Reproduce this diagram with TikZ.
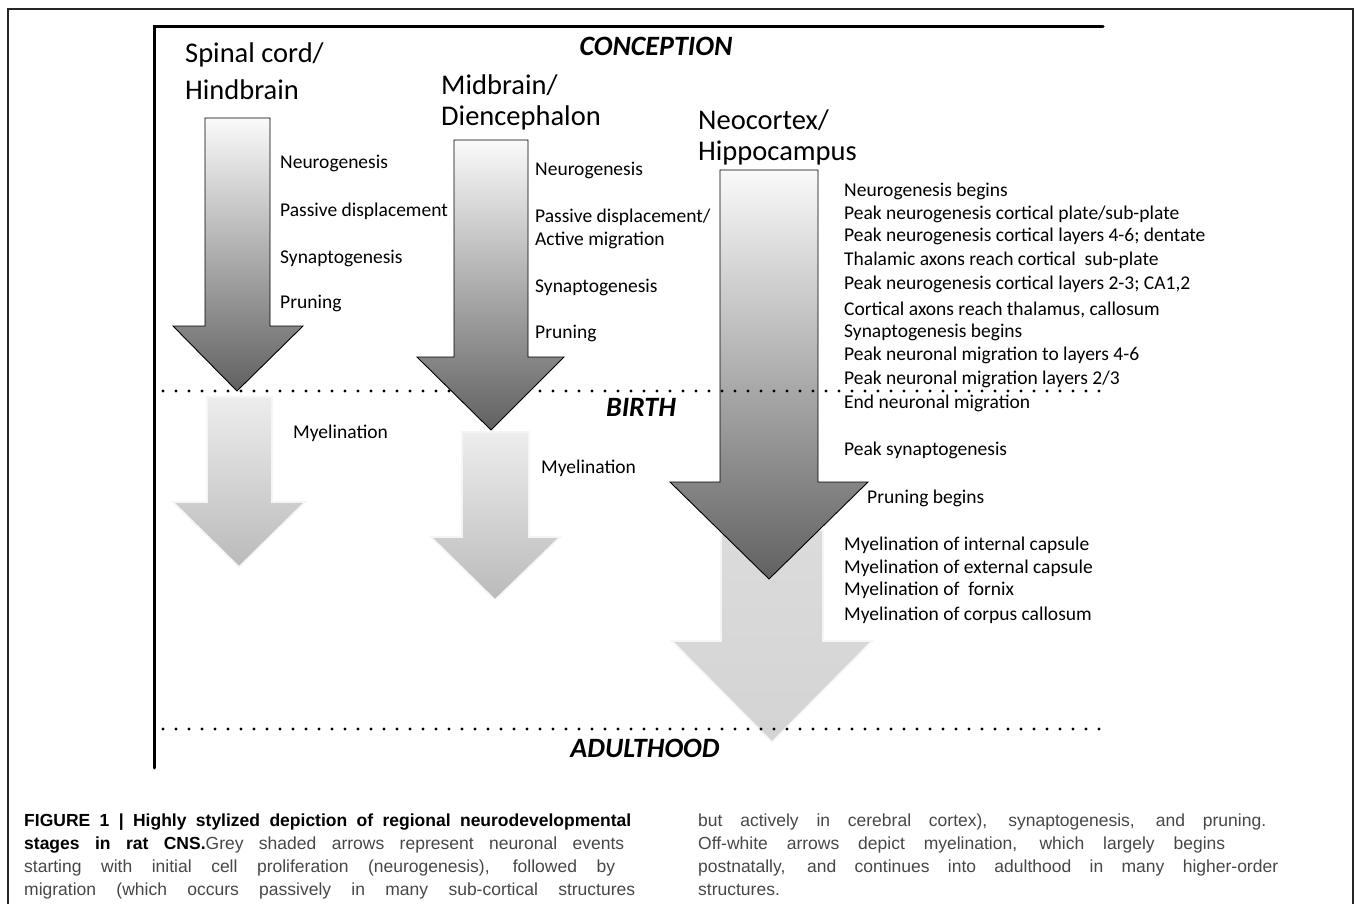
\documentclass[tikz,border=0pt]{standalone}
\usepackage{fontspec}
\setmainfont{Carlito}
\newfontfamily\capfont{Liberation Sans}
\begin{document}
\begin{tikzpicture}[x=1pt,y=-1pt,
 title/.style={anchor=west,font=\fontsize{28.5}{30}\selectfont,inner sep=0pt},
 lbl/.style={anchor=west,font=\fontsize{19.5}{21}\selectfont,inner sep=0pt},
 stage/.style={font=\fontsize{28}{30}\selectfont\bfseries\itshape,inner sep=0pt},
 darkarrow/.style={draw=black,line width=0.9pt,top color=black!2,bottom color=black!62,line join=miter},
 lightarrow/.style={draw=black!4,line width=1.6pt,top color=black!7,bottom color=black!27},
 flatarrow/.style={draw=black!4,line width=1.6pt,top color=black!14,bottom color=black!17},
 dots/.style={line width=3.2pt,line cap=round,dash pattern=on 0pt off 13pt},
 captxt/.style={anchor=base west,inner sep=0pt,font=\capfont\fontsize{17.5}{20}\selectfont,text=black!72},
]
\newcommand\bigarrow[9]{\path[#1] (#2,#4) -- (#3,#4) -- (#3,#7) -- (#6,#7) -- (#8,#9) -- (#5,#7) -- (#2,#7) -- cycle;}
\useasboundingbox (0,0) rectangle (1355,904);
% outer frame
\draw[line width=2pt,black!85] (8,910) -- (8,9) -- (1353,9) -- (1353,910);
% axes
\coordinate (axtop) at (154,27);
\coordinate (axright) at (1103,27);
\coordinate (axbot) at (154,768);
\draw[line width=3pt,line cap=round] (axright) -- (axtop) -- (axbot);
% neocortex arrows (behind dotted lines)
\bigarrow{flatarrow}{721}{823}{530}{672}{872}{641}{772}{742}
\bigarrow{darkarrow}{720}{818}{170}{670}{868}{482}{769}{579}
% dotted lines
\coordinate (b1) at (163,391); \coordinate (b2) at (1100,391);
\coordinate (a1) at (163,729); \coordinate (a2) at (1100,729);
\draw[dots] (b1) -- (b2);
\draw[dots] (a1) -- (a2);
% spinal arrows
\bigarrow{darkarrow}{205}{270}{118}{173}{303}{326}{237}{391}
\bigarrow{lightarrow}{207}{272}{397}{173}{305}{502}{239}{567}
% midbrain arrows
\bigarrow{darkarrow}{454}{528}{140}{417}{564}{357}{491}{430}
\bigarrow{lightarrow}{462}{529}{432}{431}{560}{537}{495}{600}
% stage labels
\node[stage] (conc) at (656,46) {CONCEPTION};
\node[stage] (birth) at (641,407) {BIRTH};
\node[stage] (adult) at (645,748) {ADULTHOOD};
% titles
\node[title] (t1a) at (185,55) {Spinal cord/};
\node[title] (t1b) at (185,90) {Hindbrain};
\node[title] (t2a) at (441,85) {Midbrain/};
\node[title] (t2b) at (441,118) {Diencephalon};
\node[title] (t3a) at (698,120) {Neocortex/};
\node[title] (t3b) at (698,153) {Hippocampus};
% spinal labels
\node[lbl] (s1) at (280,163) {Neurogenesis};
\node[lbl] (s2) at (280,211) {Passive displacement};
\node[lbl] (s3) at (280,258) {Synaptogenesis};
\node[lbl] (s4) at (280,303) {Pruning};
\node[lbl] (s5) at (293,433) {Myelination};
% midbrain labels
\node[lbl] (m1) at (535,170) {Neurogenesis};
\node[lbl] (m2) at (535,217) {Passive displacement/};
\node[lbl] (m3) at (535,240) {Active migration};
\node[lbl] (m4) at (535,287) {Synaptogenesis};
\node[lbl] (m5) at (535,333) {Pruning};
\node[lbl] (m6) at (541,468) {Myelination};
% neocortex labels
\node[lbl] (n1) at (844,191.5) {Neurogenesis begins};
\node[lbl] (n2) at (844,214) {Peak neurogenesis cortical plate/sub-plate};
\node[lbl] (n3) at (844,236.5) {Peak neurogenesis cortical layers 4-6; dentate};
\node[lbl] (n4) at (844,260.5) {Thalamic axons reach cortical\ \ sub-plate};
\node[lbl] (n5) at (844,284) {Peak neurogenesis cortical layers 2-3; CA1,2};
\node[lbl] (n6) at (844,309.5) {Cortical axons reach thalamus, callosum};
\node[lbl] (n7) at (844,332) {Synaptogenesis begins};
\node[lbl] (n8) at (844,355.5) {Peak neuronal migration to layers 4-6};
\node[lbl] (n9) at (844,379.5) {Peak neuronal migration layers 2/3};
\node[lbl] (n10) at (844,403.5) {End neuronal migration};
\node[lbl] (n11) at (844,450) {Peak synaptogenesis};
\node[lbl] (n12) at (867,498) {Pruning begins};
\node[lbl] (n13) at (844,545) {Myelination of internal capsule};
\node[lbl] (n14) at (844,568) {Myelination of external capsule};
\node[lbl] (n15) at (844,590) {Myelination of\ \ fornix};
\node[lbl] (n16) at (844,615) {Myelination of corpus callosum};
% caption
\node[captxt] (c1) at (24,826) {\makebox[607pt][s]{\color{black}\bfseries FIGURE 1 | Highly stylized depiction of regional neurodevelopmental}};
\node[captxt] (c2) at (24,849) {\makebox[600pt][s]{{\color{black}\bfseries stages in rat CNS.}Grey shaded arrows represent neuronal events}};
\node[captxt] (c3) at (24,872) {\makebox[591pt][s]{starting with initial cell proliferation (neurogenesis), followed by}};
\node[captxt] (c4) at (24,895) {\makebox[611pt][s]{migration (which occurs passively in many sub-cortical structures}};
\node[captxt] (c5) at (698,826) {\makebox[568pt][s]{but actively in cerebral cortex), synaptogenesis, and pruning.}};
\node[captxt] (c6) at (698,849) {\makebox[527pt][s]{Off-white arrows depict myelination, which largely begins}};
\node[captxt] (c7) at (698,872) {\makebox[580pt][s]{postnatally, and continues into adulthood in many higher-order}};
\node[captxt] (c8) at (698,895) {structures.};
\end{tikzpicture}
\end{document}
